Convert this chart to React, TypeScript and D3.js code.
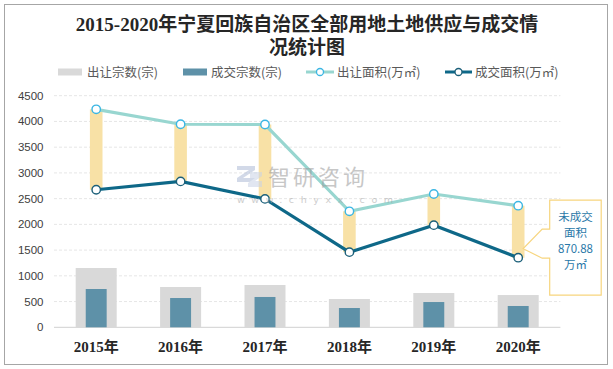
import React from 'react';
import * as d3 from 'd3';

// data
const years = ['2015年', '2016年', '2017年', '2018年', '2019年', '2020年'];
const supplyCount = [1152, 783, 822, 550, 666, 627];
const dealCount = [744, 569, 589, 375, 491, 414];
const supplyArea = [4235, 3945, 3940, 2254, 2590, 2363];
const dealArea = [2673, 2835, 2495, 1460, 1985, 1352];
const yTicks = [0, 500, 1000, 1500, 2000, 2500, 3000, 3500, 4000, 4500];
const legendNames = ['出让宗数(宗)', '成交宗数(宗)', '出让面积(万㎡)', '成交面积(万㎡)'];
const noteLines = ['未成交', '面积', '870.88', '万㎡'];

const W = 613;
const H = 369;
const GRAY = '#d9d9d9';
const BLUE_BAR = '#5e91a8';
const LIGHT_LINE = '#98d6d0';
const DARK_LINE = '#0e6888';
const GOLD = '#f8e1a6';
const SANS = '"Noto Sans CJK SC", "Liberation Sans", sans-serif';
const SERIF = '"Liberation Serif", "Noto Sans CJK SC", serif';

const App = () => {
  const x = d3.scaleBand<string>().domain(years).range([54, 560.4]);
  const y = d3.scaleLinear().domain([0, 4500]).range([327.3, 95.7]);
  const bw = x.bandwidth();
  const cx = (d: string) => (x(d) as number) + bw / 2;

  const line = d3
    .line<number>()
    .x((_, i) => cx(years[i]))
    .y((d) => y(d));

  // callout anchored on last year
  const lastX = cx(years[years.length - 1]);
  const midY = (y(supplyArea[5]) + y(dealArea[5])) / 2;
  const bx0 = lastX + 31.5;
  const bx1 = bx0 + 51.5;
  const callout = `M${bx0},${midY - 31.5} H${bx1} V${midY + 63.5} H${bx0} V${midY + 26.5} H${bx0 - 7.5} L${lastX + 5},${midY + 17} L${bx0 - 7.5},${midY - 2.5} H${bx0} Z`;

  return (
    <svg width={W} height={H} style={{ position: 'absolute', left: 0, top: 0, background: '#fff' }}>
      <rect x={4.5} y={4.5} width={603} height={360} fill="#fff" stroke="#a6a6a6" />

      {/* title */}
      <text x={307} y={31} textAnchor="middle" fontFamily={SERIF} fontWeight="bold" fontSize={19} fill="#262626">
        2015-2020年宁夏回族自治区全部用地土地供应与成交情
      </text>
      <text x={307} y={54} textAnchor="middle" fontFamily={SERIF} fontWeight="bold" fontSize={19} fill="#262626">
        况统计图
      </text>

      {/* legend */}
      <g fontFamily={SANS} fontSize={12.5} fill="#595959">
        <rect x={58} y={68.5} width={24} height={7} fill={GRAY} />
        <text x={87} y={76.5}>{legendNames[0]}</text>
        <rect x={183} y={68.5} width={24} height={7} fill={BLUE_BAR} />
        <text x={211} y={76.5}>{legendNames[1]}</text>
        <line x1={306} x2={334} y1={72} y2={72} stroke={LIGHT_LINE} strokeWidth={3} />
        <circle cx={320} cy={72} r={3.5} fill="#fff" stroke="#3bb6e3" strokeWidth={1.3} />
        <text x={337} y={76.5}>{legendNames[2]}</text>
        <line x1={445} x2={472} y1={72} y2={72} stroke={DARK_LINE} strokeWidth={3} />
        <circle cx={458.5} cy={72} r={3.5} fill="#fff" stroke="#1b5f79" strokeWidth={1.3} />
        <text x={475} y={76.5}>{legendNames[3]}</text>
      </g>

      {/* grid + y axis */}
      {yTicks.map((t) => (
        <g key={t}>
          {t > 0 && (
            <line x1={54} x2={560.4} y1={y(t)} y2={y(t)} stroke="#e6e6e6" strokeDasharray="3,2" />
          )}
          <text x={43.5} y={y(t)} dy="0.35em" textAnchor="end" fontFamily='"Liberation Sans", sans-serif' fontSize={11.5} fill="#404040">
            {t}
          </text>
        </g>
      ))}
      <line x1={54} x2={560.4} y1={y(0)} y2={y(0)} stroke="#d9d9d9" strokeWidth={1.2} />

      {/* bars */}
      {years.map((d, i) => (
        <g key={d}>
          <rect x={cx(d) - bw * 0.243} width={bw * 0.486} y={y(supplyCount[i])} height={y(0) - y(supplyCount[i])} fill={GRAY} />
          <rect x={cx(d) - bw * 0.124} width={bw * 0.248} y={y(dealCount[i])} height={y(0) - y(dealCount[i])} fill={BLUE_BAR} />
        </g>
      ))}

      {/* gap bands between supply and deal */}
      {years.map((d, i) => (
        <rect key={d} x={cx(d) - 6.3} width={12.6} y={y(supplyArea[i])} height={y(dealArea[i]) - y(supplyArea[i])} fill={GOLD} />
      ))}

      {/* lines */}
      <path d={line(supplyArea) as string} fill="none" stroke={LIGHT_LINE} strokeWidth={3.2} />
      <path d={line(dealArea) as string} fill="none" stroke={DARK_LINE} strokeWidth={3.2} />
      {years.map((d, i) => (
        <g key={d}>
          <circle cx={cx(d)} cy={y(supplyArea[i])} r={4.2} fill="#fff" stroke="#3bb6e3" strokeWidth={1.4} />
          <circle cx={cx(d)} cy={y(dealArea[i])} r={4.2} fill="#fff" stroke="#1b5f79" strokeWidth={1.4} />
        </g>
      ))}

      {/* x axis labels */}
      {years.map((d) => (
        <text key={d} x={cx(d)} y={352} textAnchor="middle" fontFamily={SERIF} fontWeight="bold" fontSize={15} fill="#262626">
          {d}
        </text>
      ))}

      {/* callout */}
      <path d={callout} fill="#fff" stroke="#f7d57e" strokeWidth={1.2} />
      {noteLines.map((t, i) => (
        <text key={t} x={(bx0 + bx1) / 2} y={midY - 11 + i * 16} textAnchor="middle" fontFamily={SANS} fontSize={11.5} fill="#2a78a8">
          {t}
        </text>
      ))}

      {/* watermark */}
      <g opacity={0.55}>
        <path d="M237,166 h18 v4 l-12,8 h12 v4 h-18 v-4 l12,-8 h-12 z" fill="#aebbd6" />
        <path d="M250,172 h12 v4 l-7,5 h7 v6 h-14 v-4 l7,-5 h-5 z" fill="#c9d3e6" />
        <text x={268} y={185} fontFamily={SANS} fontSize={22} fill="#9a9a9a" letterSpacing={3}>智研咨询</text>
        <text x={237} y={203} fontFamily='"DejaVu Sans", sans-serif' fontSize={9.5} fill="#a5a5a5" letterSpacing={6.6}>www.chyxx.com</text>
      </g>
    </svg>
  );
};

export default App;
